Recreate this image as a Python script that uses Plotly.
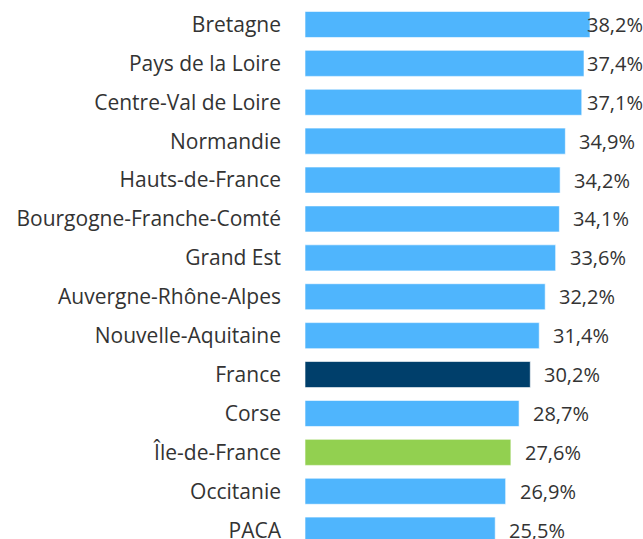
import plotly.graph_objects as go

regions = ["Bretagne", "Pays de la Loire", "Centre-Val de Loire", "Normandie",
           "Hauts-de-France", "Bourgogne-Franche-Comté", "Grand Est",
           "Auvergne-Rhône-Alpes", "Nouvelle-Aquitaine", "France", "Corse",
           "Île-de-France", "Occitanie", "PACA"]
values = [38.2, 37.4, 37.1, 34.9, 34.2, 34.1, 33.6, 32.2, 31.4, 30.2, 28.7,
          27.6, 26.9, 25.5]
value_labels = ["38,2%", "37,4%", "37,1%", "34,9%", "34,2%", "34,1%", "33,6%",
                "32,2%", "31,4%", "30,2%", "28,7%", "27,6%", "26,9%", "25,5%"]

BLUE = "#4fb5fd"
NAVY = "#003f6b"
GREEN = "#92d050"
colors = [NAVY if r == "France" else GREEN if r == "Île-de-France" else BLUE
          for r in regions]

W, H = 643, 539
ML, MT = 305, 5
px_per_unit = 7.46
xmax = (W - ML) / px_per_unit
row_px = 38.9
nrows = (H - MT) / row_px

gap_px = 12
label_limit_px = 585 - ML
label_x = [min(v * px_per_unit + gap_px, label_limit_px) / px_per_unit for v in values]

fig = go.Figure(go.Bar(
    y=regions, x=values, orientation="h",
    marker=dict(color=colors, line=dict(color="rgba(255,255,255,0.6)", width=1)),
    width=0.67, hoverinfo="skip",
))

for r, lx, t in zip(regions, label_x, value_labels):
    fig.add_annotation(x=lx, y=r, text=t, showarrow=False, xanchor="left",
                       yanchor="middle", font=dict(size=20, color="#333333",
                                                   family="Open Sans"))

fig.update_layout(
    template="none",
    width=W, height=H,
    margin=dict(l=ML, r=0, t=MT, b=0, pad=0),
    paper_bgcolor="white", plot_bgcolor="white",
    showlegend=False,
    font=dict(family="Open Sans", size=21, color="#333333"),
    xaxis=dict(range=[0, xmax], visible=False, fixedrange=True, automargin=False),
    yaxis=dict(type="category", range=[nrows - 0.5, -0.5], showgrid=False,
               zeroline=False, showline=False, ticks="", automargin=False,
               ticklabelstandoff=23, fixedrange=True,
               tickfont=dict(size=21, color="#333333", family="Open Sans")),
)

fig.write_html("out.html", config={"displayModeBar": False},
               post_script="document.body.style.margin='0';document.body.style.overflow='hidden';")
